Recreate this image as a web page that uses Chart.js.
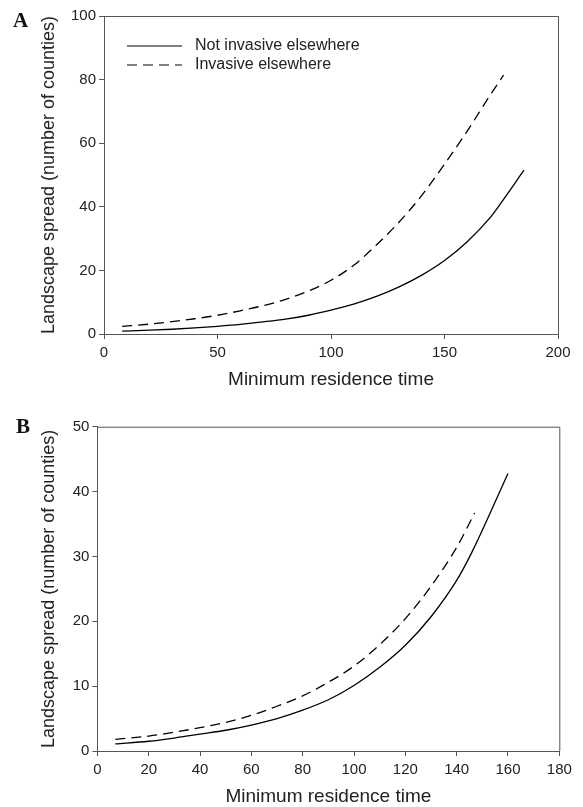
<!DOCTYPE html>
<html>
<head>
<meta charset="utf-8">
<script src="https://cdn.jsdelivr.net/npm/chart.js@4.4.1/dist/chart.umd.min.js"></script>
<style>
  body { margin: 0; background: #fff; width: 583px; height: 807px; overflow: hidden; position: relative; }
  canvas { position: absolute; left: 0; }
</style>
</head>
<body>
<canvas id="chartA" width="583" height="400" style="top:0"></canvas>
<canvas id="chartB" width="583" height="400" style="top:407px"></canvas>
<script>
// Panel A values
const aNotX = [8, 20, 30, 40, 50, 60, 70, 80, 90, 100, 110, 120, 130, 140, 150, 160, 170, 175, 185];
const aNotY = [0.9, 1.2, 1.5, 1.9, 2.4, 3.0, 3.8, 4.7, 5.9, 7.5, 9.4, 11.8, 14.8, 18.5, 23.1, 29.0, 36.5, 41.3, 51.5];
const aInvX = [8, 20, 30, 40, 50, 60, 70, 80, 90, 100, 110, 120, 130, 140, 150, 160, 170, 176];
const aInvY = [2.4, 3.1, 3.9, 4.8, 5.9, 7.3, 8.9, 10.9, 13.5, 16.9, 21.6, 28.0, 35.2, 43.6, 53.4, 63.8, 75.0, 81.4];

// Panel B values
const bNotX = [7, 20, 30, 40, 50, 60, 70, 80, 90, 100, 110, 120, 130, 140, 146, 160];
const bNotY = [1.1, 1.5, 2.0, 2.6, 3.2, 4.0, 5.0, 6.3, 7.9, 10.1, 12.9, 16.3, 20.7, 26.3, 30.7, 42.8];
const bInvX = [7, 20, 30, 40, 50, 60, 70, 80, 90, 100, 110, 120, 130, 140, 147];
const bInvY = [1.8, 2.3, 2.9, 3.6, 4.4, 5.5, 6.9, 8.5, 10.6, 13.1, 16.4, 20.4, 25.4, 31.4, 36.7];

const seriesLabels = ['Not invasive elsewhere', 'Invasive elsewhere'];
const xTitle = 'Minimum residence time';
const yTitle = 'Landscape spread (number of counties)';

const sans = '"Liberation Sans", Arial, sans-serif';
const axisColor = '#555';
const textColor = '#222';

function pts(xs, ys) {
  return xs.map((x, i) => ({ x: x, y: ys[i] }));
}

// draws the box top/right edges, the panel letter and (optionally) the legend
const framePlugin = {
  id: 'frame',
  afterDraw(chart, args, opts) {
    const ctx = chart.ctx;
    const a = chart.chartArea;
    ctx.save();
    ctx.strokeStyle = axisColor;
    ctx.lineWidth = 1;
    ctx.beginPath();
    ctx.moveTo(a.left, a.top + 0.5);
    ctx.lineTo(a.right + 0.5, a.top + 0.5);
    ctx.lineTo(a.right + 0.5, a.bottom);
    ctx.stroke();

    ctx.fillStyle = '#111';
    ctx.font = 'bold 21px "Liberation Serif", serif';
    ctx.textBaseline = 'alphabetic';
    ctx.fillText(opts.letter, opts.letterX, opts.letterY);

    if (opts.legend) {
      ctx.font = '16px ' + sans;
      ctx.textBaseline = 'middle';
      chart.data.datasets.forEach((ds, i) => {
        const y = a.top + 30 + i * 19;
        ctx.strokeStyle = '#000';
        ctx.lineWidth = 1.2;
        ctx.setLineDash(ds.borderDash || []);
        ctx.beginPath();
        ctx.moveTo(a.left + 23, y);
        ctx.lineTo(a.left + 78, y);
        ctx.stroke();
        ctx.setLineDash([]);
        ctx.fillStyle = textColor;
        ctx.fillText(ds.label, a.left + 91, y);
      });
    }
    ctx.restore();
  }
};

function makeChart(id, cfg) {
  return new Chart(document.getElementById(id), {
    type: 'line',
    data: {
      datasets: [{
        label: seriesLabels[0],
        data: pts(cfg.notX, cfg.notY),
        borderColor: '#000',
        borderWidth: 1.3,
        pointRadius: 0,
        cubicInterpolationMode: 'monotone',
        fill: false
      }, {
        label: seriesLabels[1],
        data: pts(cfg.invX, cfg.invY),
        borderColor: '#000',
        borderWidth: 1.3,
        borderDash: [10, 6],
        pointRadius: 0,
        cubicInterpolationMode: 'monotone',
        fill: false
      }]
    },
    options: {
      responsive: false,
      animation: false,
      devicePixelRatio: 1,
      layout: { padding: { left: 0, right: cfg.padRight, top: cfg.padTop, bottom: 0 } },
      plugins: {
        legend: { display: false },
        tooltip: { enabled: false },
        frame: { letter: cfg.letter, letterX: cfg.letterX, letterY: cfg.letterY, legend: cfg.legend }
      },
      scales: {
        x: {
          type: 'linear',
          min: 0,
          max: cfg.xMax,
          ticks: { stepSize: cfg.xStep, color: textColor, font: { size: 15, family: sans }, padding: 5, maxRotation: 0 },
          grid: { drawOnChartArea: false, drawTicks: true, tickLength: 5, color: axisColor },
          border: { color: axisColor, width: 1 },
          title: { display: true, text: xTitle, color: textColor, font: { size: 19, family: sans, lineHeight: 1 }, padding: { top: 0, bottom: cfg.xTitlePad } },
          afterFit: s => { s.height = cfg.xHeight; }
        },
        y: {
          min: 0,
          max: cfg.yMax,
          ticks: { stepSize: cfg.yStep, color: textColor, font: { size: 15, family: sans }, padding: 3 },
          grid: { drawOnChartArea: false, drawTicks: true, tickLength: 5, color: axisColor },
          border: { color: axisColor, width: 1 },
          title: { display: true, text: yTitle, color: textColor, font: { size: 18, family: sans, lineHeight: 1 }, padding: { top: 40, bottom: 0 } },
          afterFit: s => { s.width = cfg.yWidth; }
        }
      }
    },
    plugins: [framePlugin]
  });
}

makeChart('chartA', {
  notX: aNotX, notY: aNotY, invX: aInvX, invY: aInvY,
  xMax: 200, xStep: 50, yMax: 100, yStep: 20,
  padRight: 25, padTop: 16, yWidth: 104, xHeight: 66, xTitlePad: 10.5,
  letter: 'A', letterX: 13, letterY: 27, legend: true
});

makeChart('chartB', {
  notX: bNotX, notY: bNotY, invX: bInvX, invY: bInvY,
  xMax: 180, xStep: 20, yMax: 50, yStep: 10,
  padRight: 23.7, padTop: 19.7, yWidth: 97.4, xHeight: 56, xTitlePad: 0.5,
  letter: 'B', letterX: 16, letterY: 433 - 407, legend: false
});
</script>
</body>
</html>
